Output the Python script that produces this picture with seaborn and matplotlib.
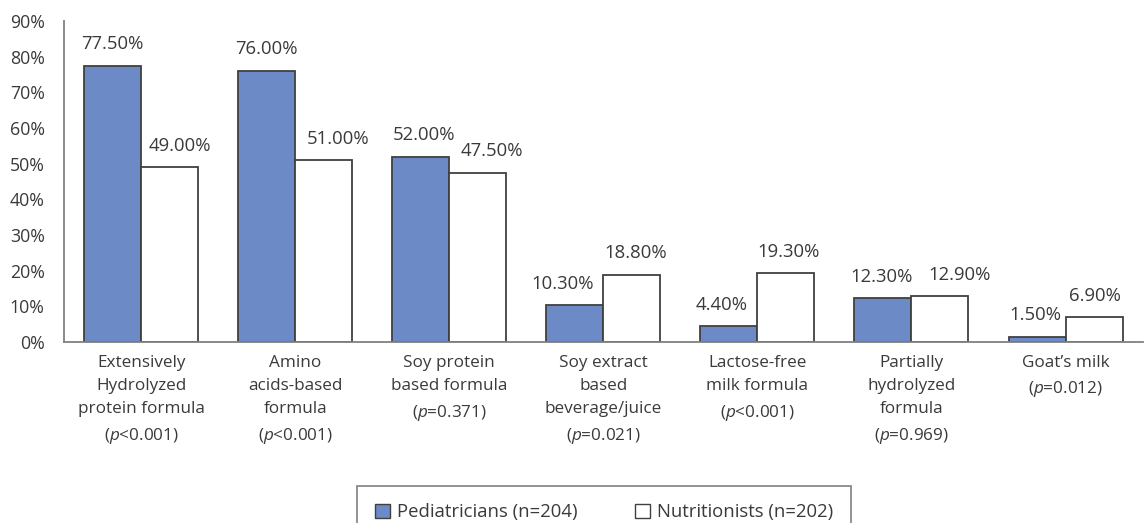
import matplotlib
matplotlib.use("Agg")
import matplotlib.pyplot as plt
import seaborn as sns
import pandas as pd
from matplotlib.patches import Patch

categories = [
    "Extensively\nHydrolyzed\nprotein formula\n($\\mathit{p}$<0.001)",
    "Amino\nacids-based\nformula\n($\\mathit{p}$<0.001)",
    "Soy protein\nbased formula\n($\\mathit{p}$=0.371)",
    "Soy extract\nbased\nbeverage/juice\n($\\mathit{p}$=0.021)",
    "Lactose-free\nmilk formula\n($\\mathit{p}$<0.001)",
    "Partially\nhydrolyzed\nformula\n($\\mathit{p}$=0.969)",
    "Goat\u2019s milk\n($\\mathit{p}$=0.012)",
]
pediatricians = [77.5, 76.0, 52.0, 10.3, 4.4, 12.3, 1.5]
nutritionists = [49.0, 51.0, 47.5, 18.8, 19.3, 12.9, 6.9]
series_names = ["Pediatricians (n=204)", "Nutritionists (n=202)"]
yticks = [0, 10, 20, 30, 40, 50, 60, 70, 80, 90]

# horizontal nudges (points) of value labels, as placed in the original
label_dx = [
    [0, 0, 2, -9, -5, -1, -1],
    [7, 10, 10, 3, 2, 14, 1],
]

df = pd.DataFrame({
    "category": categories * 2,
    "value": pediatricians + nutritionists,
    "group": [series_names[0]] * len(categories) + [series_names[1]] * len(categories),
})

sns.set_theme(style="white")
plt.rcParams["font.family"] = ["Open Sans", "DejaVu Sans"]
plt.rcParams["mathtext.fontset"] = "custom"
plt.rcParams["mathtext.rm"] = "Open Sans"
plt.rcParams["mathtext.it"] = "Open Sans:italic"

text_color = "#3a3a3a"
blue = "#6B8AC6"
edge = "#404040"

fig = plt.figure(figsize=(11.46, 5.23), dpi=100)
ax = fig.add_axes([0.056, 0.346, 0.941, 0.614])

sns.barplot(data=df, x="category", y="value", hue="group",
            hue_order=series_names, palette={series_names[0]: blue, series_names[1]: "white"},
            saturation=1, width=0.74, edgecolor=edge, linewidth=1.3, ax=ax, legend=False)

for ci, cont in enumerate(ax.containers[:2]):
    for bi, bar in enumerate(cont):
        h = bar.get_height()
        ax.annotate(f"{h:.2f}%", (bar.get_x() + bar.get_width() / 2, h),
                    xytext=(label_dx[ci][bi], 9), textcoords="offset points",
                    ha="center", va="bottom", fontsize=13.3, color=text_color)

ax.set_ylim(0, 90)
ax.set_yticks(yticks)
ax.set_yticklabels([f"{t}%" for t in yticks])
ax.set_xlim(-0.5, len(categories) - 0.5)
ax.set_xlabel("")
ax.set_ylabel("")
ax.tick_params(axis="y", length=0, pad=14, labelsize=12.8, labelcolor=text_color)
ax.tick_params(axis="x", length=0, pad=9, labelsize=12.3, labelcolor=text_color)
for lbl in ax.get_xticklabels():
    lbl.set_linespacing(1.62)

for s in ["top", "right"]:
    ax.spines[s].set_visible(False)
for s in ["left", "bottom"]:
    ax.spines[s].set_color("#808080")
    ax.spines[s].set_linewidth(1.3)

handles = [Patch(facecolor=blue, edgecolor=edge, linewidth=1.0, label=series_names[0]),
           Patch(facecolor="white", edgecolor=edge, linewidth=1.0, label=series_names[1])]
leg = fig.legend(handles=handles, loc="upper center", bbox_to_anchor=(0.527, 0.071),
                 ncol=2, frameon=True, fontsize=13.3, fancybox=False,
                 handlelength=0.8, handleheight=0.8, handletextpad=0.4,
                 columnspacing=3.1, borderpad=0.95, borderaxespad=0)
leg.get_frame().set_edgecolor("#606060")
leg.get_frame().set_linewidth(1.2)
for t in leg.get_texts():
    t.set_color(text_color)

fig.savefig("out.png", dpi=100)
